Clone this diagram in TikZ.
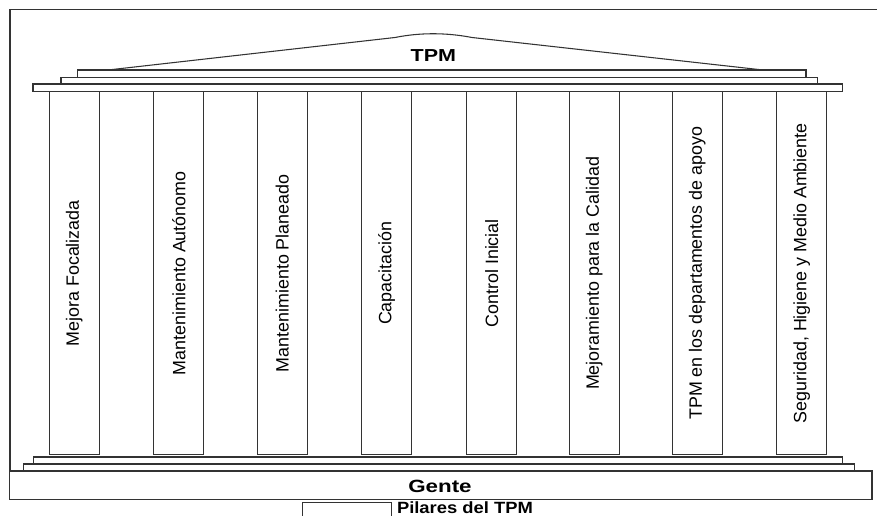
\documentclass[tikz,border=0pt]{standalone}
\usepackage{fontspec}
\setmainfont{Liberation Sans}
\begin{document}
\begin{tikzpicture}[x=0.75pt,y=-0.75pt,
  ln/.style={draw=black!80,line width=0.8pt},
  pillar/.style={ln,rotate=90,minimum width=272pt,minimum height=37.5pt,inner sep=0pt,
    font=\fontsize{13.4}{16}\selectfont},
  boldlabel/.style={inner sep=0pt,font=\bfseries}
]
\useasboundingbox (0,0) rectangle (877,516);
\clip (0,0) rectangle (877,516);
% outer frame (top and left)
\draw[ln] (877,9.3) -- (10,9.3) -- (10,471);
% roof
\draw[ln] (108,70) -- (395,37.5) .. controls (420,32.5) and (446,32.5) .. (472,37.5) -- (763,70);
\node[boldlabel,font=\fontsize{13}{15}\bfseries\selectfont,xscale=1.24] (tpm) at (433.4,55.5) {TPM};
% architrave steps
\draw[ln] (77.7,70) rectangle (806,77.3);
\draw[ln] (61,77.3) rectangle (817.7,84);
\draw[ln] (33,84) rectangle (842.7,91.7);
% pillars
\node[pillar] (p1) at (74.3,273.3) {Mejora Focalizada};
\node[pillar] (p2) at (178.8,273.3) {Mantenimiento Autónomo};
\node[pillar] (p3) at (282.2,273.3) {Mantenimiento Planeado};
\node[pillar] (p4) at (386.7,273.3) {Capacitación};
\node[pillar] (p5) at (491.7,273.3) {Control Inicial};
\node[pillar] (p6) at (594.3,273.3) {Mejoramiento para la Calidad};
\node[pillar] (p7) at (697.3,273.3) {TPM en los departamentos de apoyo};
\node[pillar] (p8) at (801.7,273.3) {Seguridad, Higiene y Medio Ambiente};
% base steps
\draw[ln] (33.3,457) rectangle (842.7,464);
\draw[ln] (23.3,464) rectangle (854.3,471);
\draw[ln] (9.5,471) rectangle (872,499.5);
\node[boldlabel,font=\fontsize{13.3}{15}\bfseries\selectfont,xscale=1.26] (gente) at (440,486) {Gente};
% legend
\draw[ln] (302.7,525) -- (302.7,502.7) -- (391.7,502.7) -- (391.7,525);
\node[boldlabel,font=\fontsize{12.2}{15}\bfseries\selectfont,xscale=1.13,anchor=west] (leg) at (396.7,507.6) {Pilares del TPM};
\end{tikzpicture}
\end{document}
